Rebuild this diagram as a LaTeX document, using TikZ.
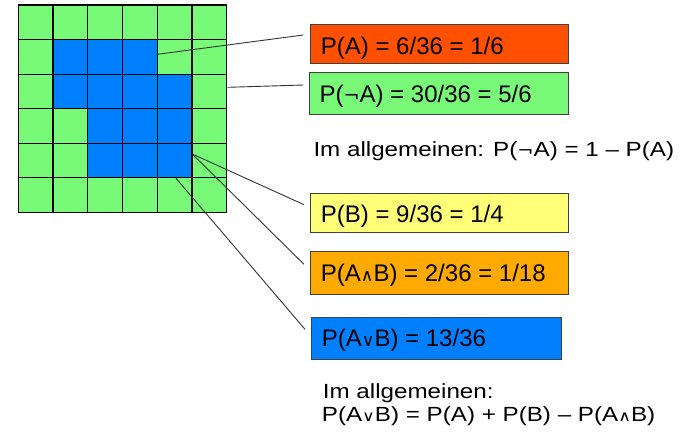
\documentclass[tikz,border=0pt]{standalone}
\usepackage{fontspec}
\setmainfont{Liberation Sans}
\newfontfamily\widefont{Liberation Sans}[FakeStretch=1.18]
\newfontfamily\symfont{DejaVu Sans}
\newfontfamily\widesymfont{DejaVu Sans}[FakeStretch=1.18]
% logical operators, set a little smaller than the text
\newcommand{\opnot}{{\symfont\fontsize{0.8em}{1em}\selectfont ¬}}
\newcommand{\opand}{{\symfont\fontsize{0.72em}{1em}\selectfont ∧}}
\newcommand{\opor}{{\symfont\fontsize{0.72em}{1em}\selectfont ∨}}
\newcommand{\wnot}{{\widesymfont\fontsize{0.8em}{1em}\selectfont ¬}}
\newcommand{\wand}{{\widesymfont\fontsize{0.72em}{1em}\selectfont ∧}}
\newcommand{\wor}{{\widesymfont\fontsize{0.72em}{1em}\selectfont ∨}}
\definecolor{cellgreen}{RGB}{120,250,120}
\definecolor{cellblue}{RGB}{0,128,255}
\definecolor{boxred}{RGB}{255,80,0}
\definecolor{boxgreen}{RGB}{120,250,120}
\definecolor{boxyellow}{RGB}{255,255,120}
\definecolor{boxorange}{RGB}{255,170,0}
\definecolor{boxblue}{RGB}{0,128,255}
\tikzset{
  probbox/.style={draw=black!75, line width=1pt, rectangle, inner sep=0pt},
  lbl/.style={anchor=base west, inner sep=0pt, font=\fontsize{24}{28}\selectfont},
  rule/.style={anchor=base west, inner sep=0pt, font=\widefont\fontsize{20.5}{24}\selectfont},
  leader/.style={draw=black!80, line width=0.9pt},
  gridline/.style={draw=black, line width=1.2pt},
}
\begin{document}
\begin{tikzpicture}[x=1pt,y=-1pt]
\useasboundingbox (0,0) rectangle (691,437);

% 6x6 grid of outcomes
\def\cw{34.73}
\fill[cellgreen] (18.3,5) rectangle (226.7,212.3);
\fill[cellblue] (52.7,39.7) -- (157.3,39.7) -- (157.3,74) -- (192,74) -- (192,177.7)
  -- (87.7,177.7) -- (87.7,108.7) -- (52.7,108.7) -- cycle;
\foreach \k in {0,...,6} {
  \draw[gridline] (18.3+\k*\cw,5) -- (18.3+\k*\cw,212.3);
  \draw[gridline] (18.3,5+\k*34.55) -- (226.7,5+\k*34.55);
}

% anchor points on the grid
\coordinate (gA) at (157.3,54.3);
\coordinate (gN) at (227.7,87.3);
\coordinate (gB) at (192.3,154);
\coordinate (gU) at (176,178.3);

% probability boxes
\node[probbox, fill=boxred, minimum width=258pt, minimum height=39pt] (bA) at (439.7,44.2) {};
\node[probbox, fill=boxgreen, minimum width=259.4pt, minimum height=42pt] (bN) at (439,93.3) {};
\node[probbox, fill=boxyellow, minimum width=258pt, minimum height=39.4pt] (bB) at (439.7,213) {};
\node[probbox, fill=boxorange, minimum width=258pt, minimum height=42.6pt] (bAB) at (439.7,273) {};
\node[probbox, fill=boxblue, minimum width=250pt, minimum height=42.3pt] (bAoB) at (436.7,338.8) {};

\node[lbl] (tA) at (320.7,54.3) {P(A) = 6/36 = 1/6};
\node[lbl] (tN) at (319.3,102.7) {P(\opnot A) = 30/36 = 5/6};
\node[lbl] (tB) at (320.7,222) {P(B) = 9/36 = 1/4};
\node[lbl] (tAB) at (320.7,281.7) {P(A\opand B) = 2/36 = 1/18};
\node[lbl] (tAoB) at (321.7,346.7) {P(A\opor B) = 13/36};

% general rules
\node[rule] (r1) at (313.3,156.7) {Im allgemeinen: P(\wnot A) = 1 – P(A)};
\node[rule] (r2) at (322.7,398.5) {Im allgemeinen:};
\node[rule] (r3) at (321.7,421) {P(A\wor B) = P(A) + P(B) – P(A\wand B)};

% leader lines
\coordinate (eA) at (303.3,35);
\coordinate (eN) at (303.3,85);
\coordinate (eB) at (304,204.7);
\coordinate (eAB) at (304,264.3);
\coordinate (eAoB) at (305,329.3);
\draw[leader] (gA) -- (eA);
\draw[leader] (gN) -- (eN);
\draw[leader] (gB) -- (eB);
\draw[leader] (gB) -- (eAB);
\draw[leader] (gU) -- (eAoB);
\end{tikzpicture}
\end{document}
